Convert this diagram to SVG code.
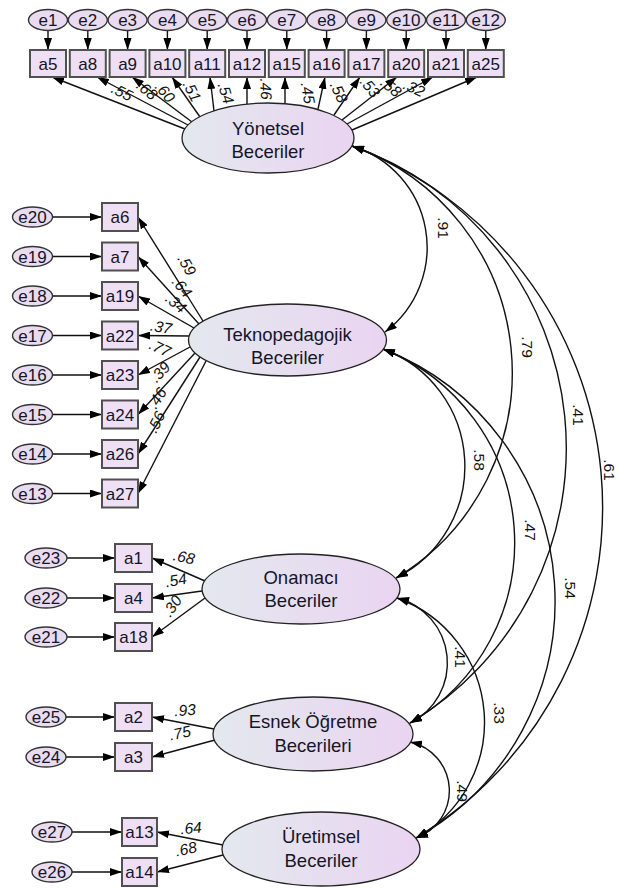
<svg xmlns="http://www.w3.org/2000/svg" width="619" height="888" viewBox="0 0 619 888">
<defs>
<linearGradient id="lg" x1="0" y1="0" x2="1" y2="0">
<stop offset="0" stop-color="#e3e8ee"/>
<stop offset="1" stop-color="#ead4f1"/>
</linearGradient>
<marker id="ah" viewBox="0 0 12 8" refX="12" refY="4" markerWidth="12" markerHeight="8" markerUnits="userSpaceOnUse" orient="auto-start-reverse">
<path d="M0,0 L12,4 L0,8 z" fill="#000"/>
</marker>
<style>
text{font-family:"Liberation Sans",Arial,sans-serif;fill:#15152a;text-anchor:middle}
.s{font-size:17px}
.lat{font-size:18.5px}
.ld{font-size:15.5px;font-style:italic;fill:#111}
.cr{font-size:15.5px;fill:#111}
.ev ellipse{fill:#e9dcf1;stroke:#333;stroke-width:1.4}
.box rect{fill:#eedff4;stroke:#505050;stroke-width:2}
.lv ellipse{fill:url(#lg);stroke:#222;stroke-width:1.3}
.c line,.c path{stroke:#111;stroke-width:1.4;fill:none;marker-end:url(#ah)}
.c path{marker-start:url(#ah)}
</style>
</defs>

<g id="connectors" class="c">
<line x1="48" y1="31" x2="48" y2="50"/>
<line x1="87.8" y1="31" x2="87.8" y2="50"/>
<line x1="127.6" y1="31" x2="127.6" y2="50"/>
<line x1="167.4" y1="31" x2="167.4" y2="50"/>
<line x1="207.2" y1="31" x2="207.2" y2="50"/>
<line x1="247" y1="31" x2="247" y2="50"/>
<line x1="286.8" y1="31" x2="286.8" y2="50"/>
<line x1="326.6" y1="31" x2="326.6" y2="50"/>
<line x1="366.4" y1="31" x2="366.4" y2="50"/>
<line x1="406.2" y1="31" x2="406.2" y2="50"/>
<line x1="446" y1="31" x2="446" y2="50"/>
<line x1="485.8" y1="31" x2="485.8" y2="50"/>
<line x1="185" y1="129" x2="52" y2="77"/>
<line x1="188" y1="125" x2="97" y2="77"/>
<line x1="192" y1="122" x2="132" y2="77"/>
<line x1="200" y1="117" x2="172" y2="77"/>
<line x1="214" y1="111" x2="210" y2="77"/>
<line x1="247" y1="104" x2="247" y2="77"/>
<line x1="285" y1="104" x2="285" y2="77"/>
<line x1="318" y1="109" x2="325" y2="77"/>
<line x1="334" y1="115" x2="360" y2="77"/>
<line x1="342" y1="120" x2="397" y2="77"/>
<line x1="347" y1="124" x2="433" y2="77"/>
<line x1="352" y1="130" x2="477" y2="77"/>
<line x1="53" y1="217" x2="102" y2="217"/>
<line x1="53" y1="256.5" x2="102" y2="256.5"/>
<line x1="53" y1="296" x2="102" y2="296"/>
<line x1="53" y1="335.5" x2="102" y2="335.5"/>
<line x1="53" y1="375" x2="102" y2="375"/>
<line x1="53" y1="414.5" x2="102" y2="414.5"/>
<line x1="53" y1="454" x2="102" y2="454"/>
<line x1="53" y1="493.5" x2="102" y2="493.5"/>
<line x1="203" y1="321" x2="138" y2="217"/>
<line x1="199" y1="324" x2="138" y2="256.5"/>
<line x1="194" y1="328" x2="138" y2="296"/>
<line x1="189" y1="336" x2="138" y2="335.5"/>
<line x1="190" y1="347" x2="138" y2="375"/>
<line x1="195" y1="353" x2="138" y2="414.5"/>
<line x1="200" y1="357" x2="138" y2="454"/>
<line x1="206" y1="361" x2="138" y2="493.5"/>
<line x1="67" y1="558" x2="115" y2="558"/>
<line x1="67" y1="598" x2="115" y2="598"/>
<line x1="67" y1="637" x2="115" y2="637"/>
<line x1="205" y1="581" x2="152" y2="558"/>
<line x1="202" y1="591" x2="152" y2="598"/>
<line x1="205" y1="598" x2="152" y2="637"/>
<line x1="66" y1="717" x2="115" y2="717"/>
<line x1="66" y1="757" x2="115" y2="757"/>
<line x1="214" y1="729" x2="152" y2="717"/>
<line x1="215" y1="740" x2="152" y2="757"/>
<line x1="72" y1="832" x2="122" y2="832"/>
<line x1="72" y1="872" x2="122" y2="872"/>
<line x1="223" y1="845" x2="157" y2="832"/>
<line x1="223" y1="855" x2="157" y2="872"/>
<path d="M352,146 A106,106 0 0 1 385,332"/>
<path d="M352,146 A240,240 0 0 1 396,578"/>
<path d="M352,146 A320,320 0 0 1 410,723"/>
<path d="M352,146 A386,386 0 0 1 416,838"/>
<path d="M383,349 A125,125 0 0 1 396,578"/>
<path d="M383,349 A208,208 0 0 1 410,723"/>
<path d="M383,349 A271,271 0 0 1 416,838"/>
<path d="M397,598 A67,67 0 0 1 410,723"/>
<path d="M397,598 A132,132 0 0 1 416,838"/>
<path d="M410,742 A50,50 0 0 1 416,838"/>
</g>

<g id="labels">
<text class="ld" transform="translate(122,92) rotate(27)" dy="0.35em">.55</text>
<text class="ld" transform="translate(147,90) rotate(40)" dy="0.35em">.68</text>
<text class="ld" transform="translate(165,92) rotate(50)" dy="0.35em">.60</text>
<text class="ld" transform="translate(192,91) rotate(62)" dy="0.35em">.51</text>
<text class="ld" transform="translate(226,93) rotate(72)" dy="0.35em">.54</text>
<text class="ld" transform="translate(266,89) rotate(88)" dy="0.35em">.46</text>
<text class="ld" transform="translate(308,93) rotate(80)" dy="0.35em">.45</text>
<text class="ld" transform="translate(339,92) rotate(65)" dy="0.35em">.58</text>
<text class="ld" transform="translate(370,87) rotate(50)" dy="0.35em">.53</text>
<text class="ld" transform="translate(391,87) rotate(40)" dy="0.35em">.58</text>
<text class="ld" transform="translate(414,88) rotate(25)" dy="0.35em">.32</text>
<text class="ld" transform="translate(187,265) rotate(60)" dy="0.35em">.59</text>
<text class="ld" transform="translate(182,287) rotate(50)" dy="0.35em">.64</text>
<text class="ld" transform="translate(176,303) rotate(40)" dy="0.35em">.34</text>
<text class="ld" transform="translate(161,327) rotate(10)" dy="0.35em">.37</text>
<text class="ld" transform="translate(160,348) rotate(25)" dy="0.35em">.77</text>
<text class="ld" transform="translate(160,372) rotate(-47)" dy="0.35em">.39</text>
<text class="ld" transform="translate(157,398) rotate(-57)" dy="0.35em">.46</text>
<text class="ld" transform="translate(156,422) rotate(-63)" dy="0.35em">.56</text>
<text class="ld" transform="translate(184,557) rotate(12)" dy="0.35em">.68</text>
<text class="ld" transform="translate(176,580) rotate(-10)" dy="0.35em">.54</text>
<text class="ld" transform="translate(172,606) rotate(-55)" dy="0.35em">.30</text>
<text class="ld" transform="translate(185,710) rotate(-4)" dy="0.35em">.93</text>
<text class="ld" transform="translate(180,733) rotate(-12)" dy="0.35em">.75</text>
<text class="ld" transform="translate(191,828) rotate(-5)" dy="0.35em">.64</text>
<text class="ld" transform="translate(186,849) rotate(-12)" dy="0.35em">.68</text>
<text class="cr" transform="translate(443,228) rotate(90)" dy="0.35em">.91</text>
<text class="cr" transform="translate(527,347) rotate(90)" dy="0.35em">.79</text>
<text class="cr" transform="translate(578,415) rotate(90)" dy="0.35em">.41</text>
<text class="cr" transform="translate(609,470) rotate(90)" dy="0.35em">.61</text>
<text class="cr" transform="translate(479,460) rotate(90)" dy="0.35em">.58</text>
<text class="cr" transform="translate(530,530) rotate(90)" dy="0.35em">.47</text>
<text class="cr" transform="translate(570,588) rotate(90)" dy="0.35em">.54</text>
<text class="cr" transform="translate(460,657) rotate(90)" dy="0.35em">.41</text>
<text class="cr" transform="translate(499,713) rotate(90)" dy="0.35em">.33</text>
<text class="cr" transform="translate(462,791) rotate(90)" dy="0.35em">.49</text>
</g>

<g id="e1" class="ev"><ellipse cx="48" cy="20" rx="19.5" ry="10.5"/><text class="s" x="48" y="26">e1</text></g>
<g id="e2" class="ev"><ellipse cx="87.8" cy="20" rx="19.5" ry="10.5"/><text class="s" x="87.8" y="26">e2</text></g>
<g id="e3" class="ev"><ellipse cx="127.6" cy="20" rx="19.5" ry="10.5"/><text class="s" x="127.6" y="26">e3</text></g>
<g id="e4" class="ev"><ellipse cx="167.4" cy="20" rx="19.5" ry="10.5"/><text class="s" x="167.4" y="26">e4</text></g>
<g id="e5" class="ev"><ellipse cx="207.2" cy="20" rx="19.5" ry="10.5"/><text class="s" x="207.2" y="26">e5</text></g>
<g id="e6" class="ev"><ellipse cx="247" cy="20" rx="19.5" ry="10.5"/><text class="s" x="247" y="26">e6</text></g>
<g id="e7" class="ev"><ellipse cx="286.8" cy="20" rx="19.5" ry="10.5"/><text class="s" x="286.8" y="26">e7</text></g>
<g id="e8" class="ev"><ellipse cx="326.6" cy="20" rx="19.5" ry="10.5"/><text class="s" x="326.6" y="26">e8</text></g>
<g id="e9" class="ev"><ellipse cx="366.4" cy="20" rx="19.5" ry="10.5"/><text class="s" x="366.4" y="26">e9</text></g>
<g id="e10" class="ev"><ellipse cx="406.2" cy="20" rx="19.5" ry="10.5"/><text class="s" x="406.2" y="26">e10</text></g>
<g id="e11" class="ev"><ellipse cx="446" cy="20" rx="19.5" ry="10.5"/><text class="s" x="446" y="26">e11</text></g>
<g id="e12" class="ev"><ellipse cx="485.8" cy="20" rx="19.5" ry="10.5"/><text class="s" x="485.8" y="26">e12</text></g>

<g id="a5" class="box"><rect x="30" y="50" width="36" height="27"/><text class="s" x="48" y="69.5">a5</text></g>
<g id="a8" class="box"><rect x="69.8" y="50" width="36" height="27"/><text class="s" x="87.8" y="69.5">a8</text></g>
<g id="a9" class="box"><rect x="109.6" y="50" width="36" height="27"/><text class="s" x="127.6" y="69.5">a9</text></g>
<g id="a10" class="box"><rect x="149.4" y="50" width="36" height="27"/><text class="s" x="167.4" y="69.5">a10</text></g>
<g id="a11" class="box"><rect x="189.2" y="50" width="36" height="27"/><text class="s" x="207.2" y="69.5">a11</text></g>
<g id="a12" class="box"><rect x="229" y="50" width="36" height="27"/><text class="s" x="247" y="69.5">a12</text></g>
<g id="a15" class="box"><rect x="268.8" y="50" width="36" height="27"/><text class="s" x="286.8" y="69.5">a15</text></g>
<g id="a16" class="box"><rect x="308.6" y="50" width="36" height="27"/><text class="s" x="326.6" y="69.5">a16</text></g>
<g id="a17" class="box"><rect x="348.4" y="50" width="36" height="27"/><text class="s" x="366.4" y="69.5">a17</text></g>
<g id="a20" class="box"><rect x="388.2" y="50" width="36" height="27"/><text class="s" x="406.2" y="69.5">a20</text></g>
<g id="a21" class="box"><rect x="428" y="50" width="36" height="27"/><text class="s" x="446" y="69.5">a21</text></g>
<g id="a25" class="box"><rect x="467.8" y="50" width="36" height="27"/><text class="s" x="485.8" y="69.5">a25</text></g>

<g id="e20" class="ev"><ellipse cx="32.5" cy="217" rx="20" ry="10"/><text class="s" x="32.5" y="223">e20</text></g>
<g id="e19" class="ev"><ellipse cx="32.5" cy="256.5" rx="20" ry="10"/><text class="s" x="32.5" y="262.5">e19</text></g>
<g id="e18" class="ev"><ellipse cx="32.5" cy="296" rx="20" ry="10"/><text class="s" x="32.5" y="302">e18</text></g>
<g id="e17" class="ev"><ellipse cx="32.5" cy="335.5" rx="20" ry="10"/><text class="s" x="32.5" y="341.5">e17</text></g>
<g id="e16" class="ev"><ellipse cx="32.5" cy="375" rx="20" ry="10"/><text class="s" x="32.5" y="381">e16</text></g>
<g id="e15" class="ev"><ellipse cx="32.5" cy="414.5" rx="20" ry="10"/><text class="s" x="32.5" y="420.5">e15</text></g>
<g id="e14" class="ev"><ellipse cx="32.5" cy="454" rx="20" ry="10"/><text class="s" x="32.5" y="460">e14</text></g>
<g id="e13" class="ev"><ellipse cx="32.5" cy="493.5" rx="20" ry="10"/><text class="s" x="32.5" y="499.5">e13</text></g>

<g id="a6" class="box"><rect x="102" y="203" width="36" height="28"/><text class="s" x="120" y="223">a6</text></g>
<g id="a7" class="box"><rect x="102" y="242.5" width="36" height="28"/><text class="s" x="120" y="262.5">a7</text></g>
<g id="a19" class="box"><rect x="102" y="282" width="36" height="28"/><text class="s" x="120" y="302">a19</text></g>
<g id="a22" class="box"><rect x="102" y="321.5" width="36" height="28"/><text class="s" x="120" y="341.5">a22</text></g>
<g id="a23" class="box"><rect x="102" y="361" width="36" height="28"/><text class="s" x="120" y="381">a23</text></g>
<g id="a24" class="box"><rect x="102" y="400.5" width="36" height="28"/><text class="s" x="120" y="420.5">a24</text></g>
<g id="a26" class="box"><rect x="102" y="440" width="36" height="28"/><text class="s" x="120" y="460">a26</text></g>
<g id="a27" class="box"><rect x="102" y="479.5" width="36" height="28"/><text class="s" x="120" y="499.5">a27</text></g>

<g id="e23" class="ev"><ellipse cx="46" cy="558" rx="21" ry="10"/><text class="s" x="46" y="564">e23</text></g>
<g id="e22" class="ev"><ellipse cx="46" cy="598" rx="21" ry="10"/><text class="s" x="46" y="604">e22</text></g>
<g id="e21" class="ev"><ellipse cx="46" cy="637" rx="21" ry="10"/><text class="s" x="46" y="643">e21</text></g>
<g id="a1" class="box"><rect x="115" y="544" width="37" height="28"/><text class="s" x="133.5" y="564">a1</text></g>
<g id="a4" class="box"><rect x="115" y="584" width="37" height="28"/><text class="s" x="133.5" y="604">a4</text></g>
<g id="a18" class="box"><rect x="115" y="623" width="37" height="28"/><text class="s" x="133.5" y="643">a18</text></g>

<g id="e25" class="ev"><ellipse cx="46" cy="717" rx="20" ry="10"/><text class="s" x="46" y="723">e25</text></g>
<g id="e24" class="ev"><ellipse cx="46" cy="757" rx="20" ry="10"/><text class="s" x="46" y="763">e24</text></g>
<g id="a2" class="box"><rect x="115" y="703" width="37" height="28"/><text class="s" x="133.5" y="723">a2</text></g>
<g id="a3" class="box"><rect x="115" y="743" width="37" height="28"/><text class="s" x="133.5" y="763">a3</text></g>

<g id="e27" class="ev"><ellipse cx="52" cy="832" rx="20" ry="10"/><text class="s" x="52" y="838">e27</text></g>
<g id="e26" class="ev"><ellipse cx="52" cy="872" rx="20" ry="10"/><text class="s" x="52" y="878">e26</text></g>
<g id="a13" class="box"><rect x="122" y="818" width="35" height="28"/><text class="s" x="139.5" y="838">a13</text></g>
<g id="a14" class="box"><rect x="122" y="858" width="35" height="28"/><text class="s" x="139.5" y="878">a14</text></g>

<g id="yonetsel" class="lv"><ellipse cx="268" cy="138" rx="86" ry="35"/><text class="lat" x="268" y="135">Yönetsel</text><text class="lat" x="268" y="158">Beceriler</text></g>
<g id="teknopedagojik" class="lv"><ellipse cx="287.5" cy="340" rx="99" ry="36"/><text class="lat" x="287.5" y="341">Teknopedagojik</text><text class="lat" x="287.5" y="364">Beceriler</text></g>
<g id="onamaci" class="lv"><ellipse cx="301" cy="589" rx="99" ry="35"/><text class="lat" x="301" y="584">Onamacı</text><text class="lat" x="301" y="607">Beceriler</text></g>
<g id="esnek" class="lv"><ellipse cx="313" cy="734" rx="100" ry="37"/><text class="lat" x="313" y="728">Esnek Öğretme</text><text class="lat" x="313" y="752">Becerileri</text></g>
<g id="uretimsel" class="lv"><ellipse cx="321" cy="849" rx="99" ry="37"/><text class="lat" x="321" y="843">Üretimsel</text><text class="lat" x="321" y="867">Beceriler</text></g>
</svg>
